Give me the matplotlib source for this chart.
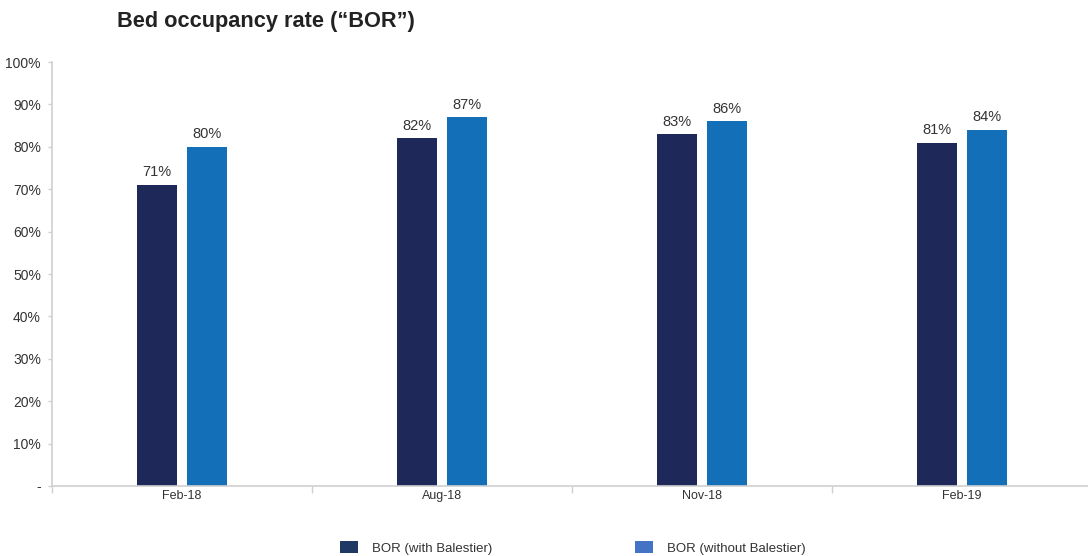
import matplotlib
matplotlib.use("Agg")
import matplotlib.pyplot as plt
from matplotlib.patches import Patch
import numpy as np

plt.rcParams['font.family'] = ['Liberation Sans', 'DejaVu Sans']

categories = ["Feb-18", "Aug-18", "Nov-18", "Feb-19"]
bor_with = [71, 82, 83, 81]
bor_without = [80, 87, 86, 84]
series_names = ["BOR (with Balestier)", "BOR (without Balestier)"]
y_ticks = [0, 10, 20, 30, 40, 50, 60, 70, 80, 90, 100]
y_labels = ["-"] + [f"{v}%" for v in y_ticks[1:]]

dark = "#1e2859"
light = "#1370b8"
legend_dark = "#1f3864"
legend_light = "#4472c4"
axis_grey = "#d0d0d0"
text_col = "#333333"

W, H = 1088, 556
fig = plt.figure(figsize=(W / 100, H / 100), dpi=100)
ax = fig.add_axes([52 / W, 70 / H, 1040 / W, 424 / H])

x = np.arange(len(categories))
bw = 0.154
off = 0.096
b1 = ax.bar(x - off, bor_with, width=bw, color=dark, zorder=2)
b2 = ax.bar(x + off, bor_without, width=bw, color=light, zorder=2)

for bars, vals in ((b1, bor_with), (b2, bor_without)):
    for rect, v in zip(bars, vals):
        ax.text(rect.get_x() + rect.get_width() / 2, v + 1.3, f"{v}%",
                ha="center", va="bottom", fontsize=10.5, color=text_col)

ax.set_xlim(-0.5, len(categories) - 0.5)
ax.set_ylim(0, 100)
ax.set_yticks(y_ticks)
ax.set_yticklabels(y_labels, fontsize=10, color=text_col)
ax.set_xticks(x)
ax.set_xticklabels(categories, fontsize=9, color=text_col)
ax.set_xticks(np.arange(len(categories) + 1) - 0.5, minor=True)
ax.tick_params(axis="x", which="major", length=0, pad=3)
ax.tick_params(axis="x", which="minor", length=5, color=axis_grey, width=1)
ax.tick_params(axis="y", length=3, color=axis_grey, width=1, pad=5)

for s in ("top", "right"):
    ax.spines[s].set_visible(False)
for s in ("left", "bottom"):
    ax.spines[s].set_color(axis_grey)
    ax.spines[s].set_linewidth(1.2)

fig.text(117 / W, 1 - 21 / H, "Bed occupancy rate (\u201cBOR\u201d)", fontsize=15.7,
         fontweight="bold", color="#222222", ha="left", va="center")

handles = [Patch(facecolor=legend_dark), Patch(facecolor=legend_light)]
leg_kw = dict(loc="center left", frameon=False, fontsize=9.5,
              handlelength=1.35, handleheight=1.0, handletextpad=1.05,
              labelcolor=text_col, borderaxespad=0, borderpad=0)
fig.legend(handles[:1], series_names[:1],
           bbox_to_anchor=(340 / W, 1 - 548 / H), **leg_kw)
fig.legend(handles[1:], series_names[1:],
           bbox_to_anchor=(635 / W, 1 - 548 / H), **leg_kw)

fig.savefig("out.png", dpi=100)
